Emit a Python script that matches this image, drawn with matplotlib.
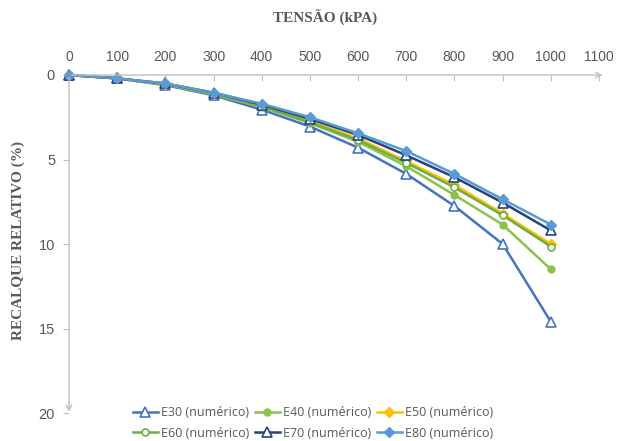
import matplotlib
matplotlib.use("Agg")
import matplotlib.pyplot as plt

tensao = [0, 100, 200, 300, 400, 500, 600, 700, 800, 900, 1000]
e30 = [0, 0.2, 0.6, 1.2, 2.05, 3.05, 4.3, 5.85, 7.75, 10.0, 14.6]
e40 = [0, 0.2, 0.55, 1.15, 1.9, 2.85, 3.95, 5.4, 7.1, 8.85, 11.5]
e50 = [0, 0.2, 0.55, 1.1, 1.85, 2.75, 3.75, 5.1, 6.5, 8.2, 10.0]
e60 = [0, 0.2, 0.55, 1.1, 1.85, 2.8, 3.85, 5.2, 6.65, 8.3, 10.15]
e70 = [0, 0.2, 0.5, 1.05, 1.75, 2.6, 3.55, 4.75, 6.05, 7.55, 9.2]
e80 = [0, 0.2, 0.5, 1.05, 1.7, 2.5, 3.45, 4.5, 5.85, 7.35, 8.85]
labels = ["E30 (numérico)", "E40 (numérico)", "E50 (numérico)",
          "E60 (numérico)", "E70 (numérico)", "E80 (numérico)"]
xticks = [0, 100, 200, 300, 400, 500, 600, 700, 800, 900, 1000, 1100]
yticks = [0, 5, 10, 15, 20]

grey = "#595959"
axcol = "#BFBFBF"
tickfont = "Liberation Sans"

fig = plt.figure(figsize=(6.17, 4.41), dpi=100)
ax = fig.add_axes([69/617, 1-413/441, (599-69)/617, (413-75)/441])

styles = [
    dict(color="#4472C4", marker="^", mfc="white", mec="#4472C4", ms=7, mew=1.2),
    dict(color="#8BC34A", marker="o", mfc="#8BC34A", mec="#8BC34A", ms=5),
    dict(color="#FFC000", marker="D", mfc="#FFC000", mec="#FFC000", ms=5),
    dict(color="#70AD47", marker="o", mfc="white", mec="#70AD47", ms=5, mew=1.2),
    dict(color="#264478", marker="^", mfc="white", mec="#264478", ms=7, mew=1.2),
    dict(color="#5B9BD5", marker="D", mfc="#5B9BD5", mec="#5B9BD5", ms=5),
]
series = [e30, e40, e50, e60, e70, e80]
handles = []
for ys, st, lab in zip(series, styles, labels):
    h, = ax.plot(tensao, ys, lw=1.8, label=lab, clip_on=False, **st)
    handles.append(h)

ax.set_xlim(0, 1100)
ax.set_ylim(20, 0)
ax.xaxis.tick_top()
ax.set_xticks(xticks)
ax.set_yticks(yticks)
for s in ax.spines.values():
    s.set_visible(False)
ax.tick_params(axis="x", top=True, direction="in", length=4, color=axcol,
               labelcolor=grey, labelsize=10, pad=8)
ax.tick_params(axis="y", direction="out", length=4, color=axcol,
               labelcolor=grey, labelsize=10.5, pad=6)
for lbl in ax.get_xticklabels() + ax.get_yticklabels():
    lbl.set_fontfamily(tickfont)

# axis lines with arrows
ax.annotate("", xy=(1.012, 1), xytext=(0, 1), xycoords="axes fraction",
            arrowprops=dict(arrowstyle="->", color=axcol, lw=1.0), annotation_clip=False)
ax.annotate("", xy=(0, -0.005), xytext=(0, 1), xycoords="axes fraction",
            arrowprops=dict(arrowstyle="->", color=axcol, lw=1.0), annotation_clip=False)

fig.text(325/617, 1-18/441, "TENSÃO (kPA)", ha="center", va="center",
         family="Liberation Serif", weight="bold", color=grey, fontsize=11)
fig.text(18/617, 1-240/441, "RECALQUE RELATIVO (%)", ha="center", va="center",
         rotation=90, family="Liberation Serif", weight="bold", color=grey, fontsize=11)

# legend filled row by row (matplotlib fills columns first)
order = [0, 3, 1, 4, 2, 5]
leg = fig.legend(handles=[handles[i] for i in order], loc="center",
                 bbox_to_anchor=(313/617, 1-423/441),
                 ncol=3, frameon=False, handlelength=2.0, handletextpad=0.3,
                 columnspacing=0.4, labelspacing=0.6,
                 prop=dict(family="Open Sans", size=9))
for t in leg.get_texts():
    t.set_color(grey)

fig.savefig("out.png", dpi=100)
